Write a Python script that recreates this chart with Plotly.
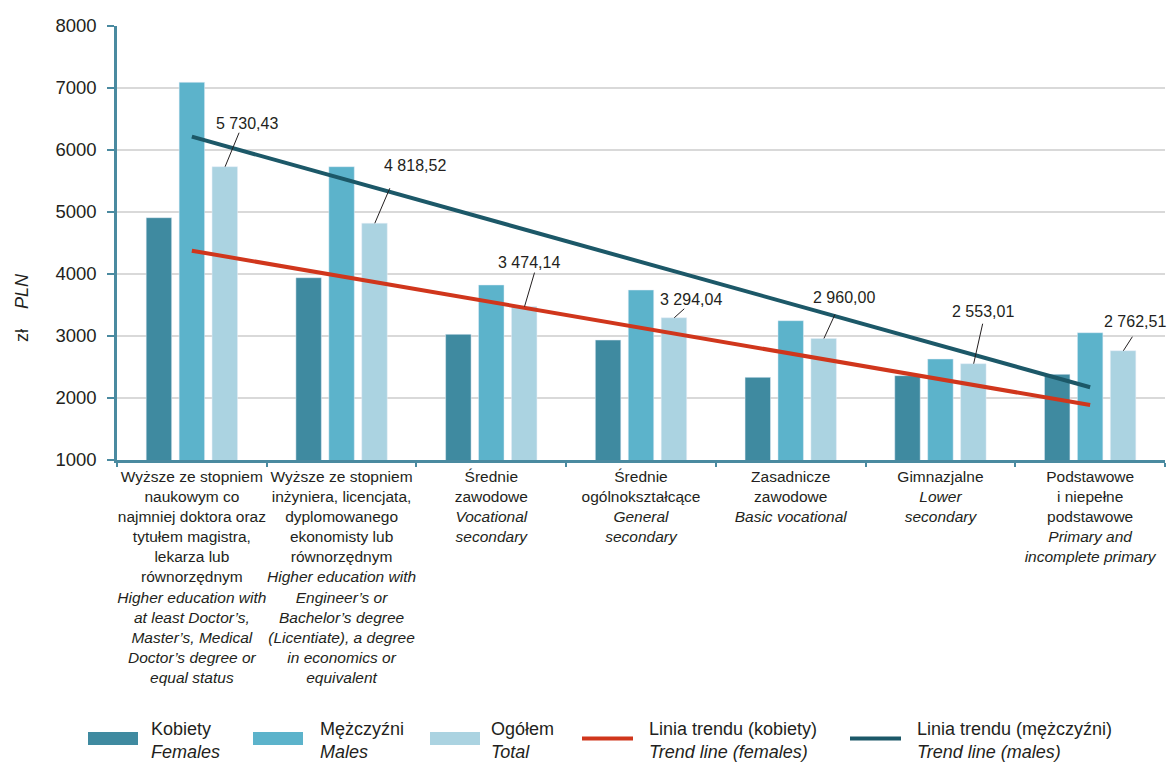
import plotly.graph_objects as go

# ---------------- data ----------------
categories = [
    "Wyższe ze stopniem<br>naukowym co<br>najmniej doktora oraz<br>tytułem magistra,<br>lekarza lub<br>równorzędnym<br>"
    "<i>Higher education with</i><br><i>at least Doctor’s,</i><br><i>Master’s, Medical</i><br><i>Doctor’s degree or</i><br><i>equal status</i>",
    "Wyższe ze stopniem<br>inżyniera, licencjata,<br>dyplomowanego<br>ekonomisty lub<br>równorzędnym<br>"
    "<i>Higher education with</i><br><i>Engineer’s or</i><br><i>Bachelor’s degree</i><br><i>(Licentiate), a degree</i><br><i>in economics or</i><br><i>equivalent</i>",
    "Średnie<br>zawodowe<br><i>Vocational</i><br><i>secondary</i>",
    "Średnie<br>ogólnokształcące<br><i>General</i><br><i>secondary</i>",
    "Zasadnicze<br>zawodowe<br><i>Basic vocational</i>",
    "Gimnazjalne<br><i>Lower</i><br><i>secondary</i>",
    "Podstawowe<br>i niepełne<br>podstawowe<br><i>Primary and</i><br><i>incomplete primary</i>",
]
females = [4908, 3940, 3027, 2935, 2333, 2360, 2382]
males = [7092, 5731, 3823, 3742, 3247, 2629, 3053]
total = [5730.43, 4818.52, 3474.14, 3294.04, 2960.00, 2553.01, 2762.51]
trend_females = [4376, 1887]   # at first and last category
trend_males = [6215, 2173]
y_ticks = [1000, 2000, 3000, 4000, 5000, 6000, 7000, 8000]

series_names = ["Kobiety", "Mężczyźni", "Ogółem", "Linia trendu (kobiety)", "Linia trendu (mężczyźni)"]
series_names_en = ["Females", "Males", "Total", "Trend line (females)", "Trend line (males)"]

# ---------------- styles ----------------
C_F = "#3f8aa0"
C_M = "#5cb3cb"
C_T = "#abd3e1"
C_RED = "#d0361c"
C_DARK = "#1c5868"
C_AXIS = "#4a8aa0"
FONT = "Liberation Sans, Arial, sans-serif"
TXT = "#231f20"

W, H = 1173, 765
ML, MR, MT, MB = 117, 8, 26, 305
PW = W - ML - MR
PH = H - MT - MB

def px_x(px):
    return (px - ML) / PW

def px_y(py):
    return (H - MB - py) / PH

fig = go.Figure()
fig.add_trace(go.Bar(x=categories, y=females, name=series_names[0], marker_color=C_F, base=0))
fig.add_trace(go.Bar(x=categories, y=males, name=series_names[1], marker_color=C_M, base=0))
fig.add_trace(go.Bar(x=categories, y=total, name=series_names[2], marker_color=C_T, base=0))
fig.add_trace(go.Scatter(x=[categories[0], categories[-1]], y=trend_females, mode="lines",
                         line=dict(color=C_RED, width=4), name=series_names[3]))
fig.add_trace(go.Scatter(x=[categories[0], categories[-1]], y=trend_males, mode="lines",
                         line=dict(color=C_DARK, width=4), name=series_names[4]))

# value labels for "Ogółem" with leader lines
label_text_offsets = [(22, 43), (40, 58), (4, 44), (17, 18), (20, 41), (9, 52), (12, 29)]
leader_ends = [(14, 34), (15, 35), (10, 34), (10, 9), (11, 24), (9, 40), (9, 14)]
TOTAL_SHIFT = 0.222  # position of the third bar within a category (category units)

def fmt(v):
    return f"{v:,.2f}".replace(",", " ").replace(".", ",")

for i, v in enumerate(total):
    xa = i + TOTAL_SHIFT
    dx, dy = label_text_offsets[i]
    fig.add_annotation(x=xa, y=v, xref="x", yref="y", text=fmt(v), showarrow=False,
                       xshift=dx, yshift=dy, font=dict(family=FONT, size=16, color=TXT))
    lx, ly = leader_ends[i]
    fig.add_shape(type="line", xref="x", yref="y", xsizemode="pixel", ysizemode="pixel",
                  xanchor=xa, yanchor=v, x0=0, y0=0, x1=lx, y1=ly,
                  line=dict(color=TXT, width=1))

# y-axis title
fig.add_annotation(x=px_x(22), y=px_y(308), xref="paper", yref="paper", text="zł    <i>PLN</i>",
                   textangle=-90, showarrow=False, xanchor="center", yanchor="middle",
                   font=dict(family=FONT, size=18, color=TXT))

# custom legend
swatches = [(88, C_F), (253, C_M), (430, C_T)]
for k, (x0, col) in enumerate(swatches):
    fig.add_shape(type="rect", xref="paper", yref="paper", x0=px_x(x0), x1=px_x(x0 + 50),
                  y0=px_y(745), y1=px_y(732), fillcolor=col, line=dict(width=0))
lines_leg = [(582, C_RED), (850, C_DARK)]
for x0, col in lines_leg:
    fig.add_shape(type="line", xref="paper", yref="paper", x0=px_x(x0), x1=px_x(x0 + 51),
                  y0=px_y(738.5), y1=px_y(738.5), line=dict(color=col, width=4))
text_x = [149, 318, 489, 647, 915]
for k, tx in enumerate(text_x):
    fig.add_annotation(x=px_x(tx), y=px_y(729), xref="paper", yref="paper", text=series_names[k],
                       xanchor="left", yanchor="middle", showarrow=False,
                       font=dict(family=FONT, size=18, color=TXT))
    fig.add_annotation(x=px_x(tx), y=px_y(752), xref="paper", yref="paper",
                       text="<i>" + series_names_en[k] + "</i>",
                       xanchor="left", yanchor="middle", showarrow=False,
                       font=dict(family=FONT, size=18, color=TXT))

fig.update_layout(
    width=W, height=H, autosize=False,
    margin=dict(l=ML, r=MR, t=MT, b=MB, pad=0),
    paper_bgcolor="white", plot_bgcolor="white",
    showlegend=False,
    barmode="group", bargap=0.34, bargroupgap=0.227,
    font=dict(family=FONT, color=TXT),
)
fig.update_xaxes(
    type="category", showline=True, linecolor=C_AXIS, linewidth=3,
    ticks="outside", tickson="boundaries", ticklen=4, tickwidth=2, tickcolor=C_AXIS,
    tickfont=dict(family=FONT, size=15.5, color=TXT), showgrid=False, zeroline=False,
    tickangle=0, range=[-0.5, 6.5],
)
fig.update_yaxes(
    range=[1000, 8000], tickvals=y_ticks, showline=True, linecolor=C_AXIS, linewidth=2.5,
    ticks="outside", ticklen=7, tickwidth=2, tickcolor=C_AXIS, ticklabelstandoff=7,
    showgrid=True, gridcolor="#d9d9d9", gridwidth=2, zeroline=False,
    tickfont=dict(family=FONT, size=18.5, color=TXT),
)

fig.write_html("out.html", config={"displayModeBar": False},
               post_script="document.body.style.margin='0';document.body.style.padding='0';")
